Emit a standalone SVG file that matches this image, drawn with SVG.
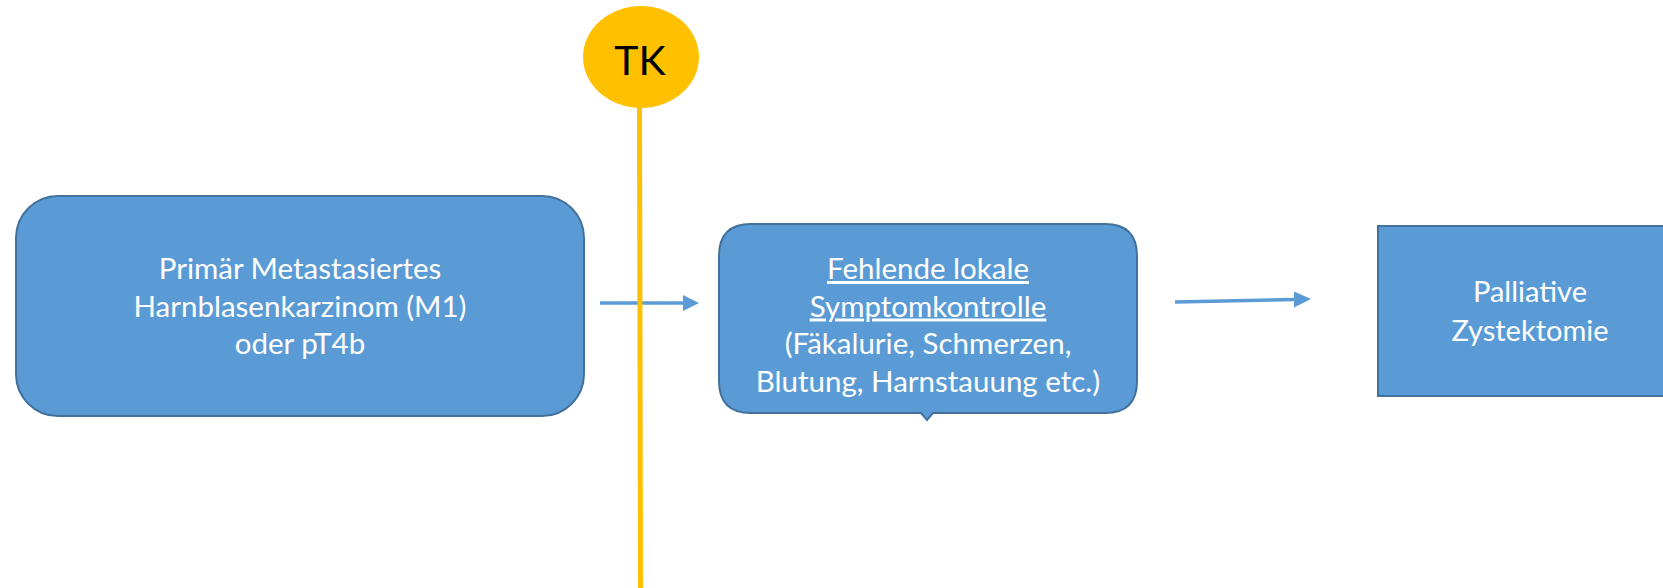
<svg xmlns="http://www.w3.org/2000/svg" width="1663" height="588" viewBox="0 0 1663 588">
<defs>
<style>
.box{fill:#5B9BD5;stroke:#41719C;stroke-width:2}
.t{font-family:"Lato","Liberation Sans",sans-serif;fill:#FFFFFF;text-anchor:middle;font-size:29.5px}
.t2{font-family:"Lato","Liberation Sans",sans-serif;fill:#FFFFFF;text-anchor:middle;font-size:29px}
.conn{stroke:#5B9BD5;stroke-width:3.5;fill:none}
.head{fill:#5B9BD5}
</style>
</defs>
<rect width="1663" height="588" fill="#FFFFFF"/>
<g id="connectors">
<line class="conn" x1="600" y1="303" x2="684" y2="303"/>
<path class="head" d="M683,295 L699,303 L683,311 Z"/>
<line class="conn" x1="1175" y1="302" x2="1295" y2="299.4"/>
<path class="head" d="M1294,291.4 L1311,299 L1294,307.4 Z"/>
</g>
<g id="node-primaer">
<rect class="box" x="16" y="196" width="568" height="220" rx="42" ry="42"/>
<text class="t" x="300" y="279">Primär Metastasiertes</text>
<text class="t" x="300" y="316.5">Harnblasenkarzinom (M1)</text>
<text class="t" x="300" y="354">oder pT4b</text>
</g>
<g id="node-tk">
<line x1="639.5" y1="100" x2="640.5" y2="588" stroke="#FFC000" stroke-width="5"/>
<ellipse cx="641" cy="57" rx="58" ry="51" fill="#FFC000"/>
<text x="640" y="75" font-family="Lato,'Liberation Sans',sans-serif" font-size="41" fill="#000000" text-anchor="middle">TK</text>
</g>
<g id="node-fehlende">
<path class="box" d="M751,224 L1105,224 Q1137,224 1137,256 L1137,381 Q1137,413 1105,413 L933,413 L927,420 L921,413 L751,413 Q719,413 719,381 L719,256 Q719,224 751,224 Z"/>
<text class="t" x="928" y="279" text-decoration="underline">Fehlende lokale</text>
<text class="t" x="928" y="316.5" text-decoration="underline">Symptomkontrolle</text>
<text class="t" x="928" y="354">(Fäkalurie, Schmerzen,</text>
<text class="t" x="928" y="391.5">Blutung, Harnstauung etc.)</text>
</g>
<g id="node-palliative">
<rect class="box" x="1378" y="226" width="300" height="170"/>
<text class="t2" x="1530" y="302">Palliative</text>
<text class="t2" x="1530" y="341">Zystektomie</text>
</g>
</svg>
